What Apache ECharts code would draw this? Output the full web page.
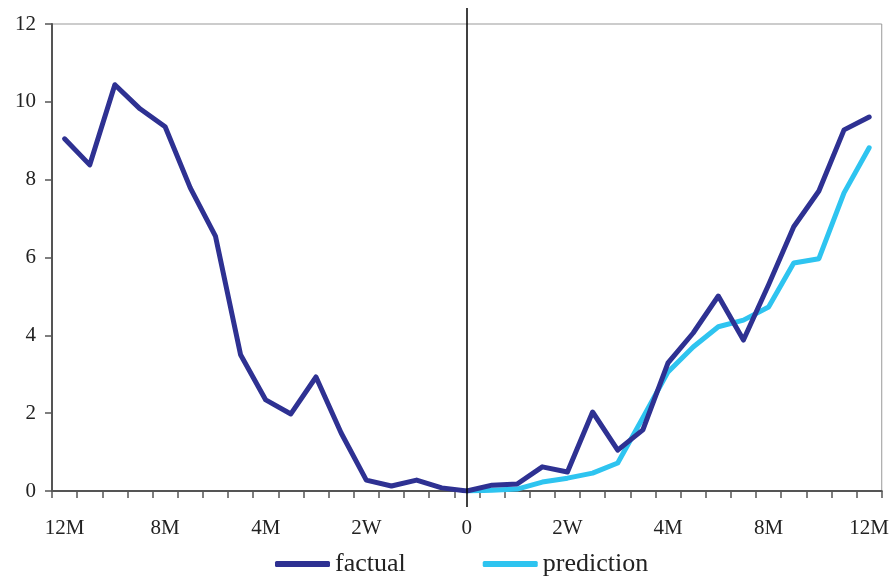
<!DOCTYPE html>
<html><head><meta charset="utf-8">
<script src="https://cdn.jsdelivr.net/npm/echarts@6/dist/echarts.min.js"></script>
<style>html,body{margin:0;padding:0;background:#fff}#c{width:892px;height:579px}</style>
</head><body><div id="c"></div>
<script>
const tickLabels = ['12M','8M','4M','2W','0','2W','4M','8M','12M'];
const categories = Array.from({length:33},(_,i)=> i%4===0 ? tickLabels[i/4] : '');
const factual = [9.05,8.38,10.44,9.82,9.36,7.79,6.55,3.50,2.34,1.98,2.93,1.49,0.28,0.13,0.28,0.08,0,
  0.15,0.18,0.62,0.49,2.03,1.05,1.57,3.29,4.06,5.01,3.88,5.3,6.79,7.71,9.28,9.61];
const prediction = [null,null,null,null,null,null,null,null,null,null,null,null,null,null,null,null,0,
  0.02,0.05,0.23,0.33,0.46,0.72,1.88,3.06,3.70,4.22,4.39,4.73,5.86,5.97,7.66,8.82];
const zeroIndex = 16;

const font = 'Liberation Serif';
const chart = echarts.init(document.getElementById('c'));
chart.setOption({
  animation:false,
  grid:[
    {left:52,right:10,top:24,bottom:88,show:true,borderColor:'#999',borderWidth:1},
    {left:52,right:10,top:8,bottom:72}
  ],
  legend:{
    left:270,top:546,itemWidth:55,itemHeight:6,itemGap:77,
    icon:'roundRect',
    textStyle:{fontFamily:font,fontSize:26,color:'#222'},
    data:['factual','prediction']
  },
  xAxis:[
    {type:'category',gridIndex:0,data:categories,boundaryGap:true,
     axisLine:{lineStyle:{color:'#555',width:2}},
     axisTick:{show:true,interval:0,length:7,lineStyle:{color:'#555',width:1.5}},
     axisLabel:{interval:0,margin:27,fontFamily:font,fontSize:21,color:'#222'}},
    {type:'category',gridIndex:1,data:categories,boundaryGap:true,show:false}
  ],
  yAxis:[
    {type:'value',gridIndex:0,min:0,max:12,interval:2,
     axisLine:{show:true,lineStyle:{color:'#555',width:2}},
     axisTick:{show:true,length:7,lineStyle:{color:'#555',width:1.5}},
     splitLine:{show:false},
     axisLabel:{margin:16,fontFamily:font,fontSize:21,color:'#222'}},
    {type:'value',gridIndex:1,min:0,max:1,show:false,splitLine:{show:false}}
  ],
  series:[
    {name:'factual',type:'line',data:factual,symbol:'none',
     lineStyle:{color:'#2E3192',width:5,cap:'round',join:'round'},itemStyle:{color:'#2E3192'},z:3},
    {name:'prediction',type:'line',data:prediction,symbol:'none',
     lineStyle:{color:'#2EC4F0',width:5,cap:'round',join:'round'},itemStyle:{color:'#2EC4F0'},z:2},
    {type:'line',xAxisIndex:1,yAxisIndex:1,data:[],
     markLine:{symbol:'none',silent:true,label:{show:false},
       lineStyle:{color:'#000',width:1.5,type:'solid'},
       data:[{xAxis:zeroIndex}]}}
  ]
});
</script></body></html>
